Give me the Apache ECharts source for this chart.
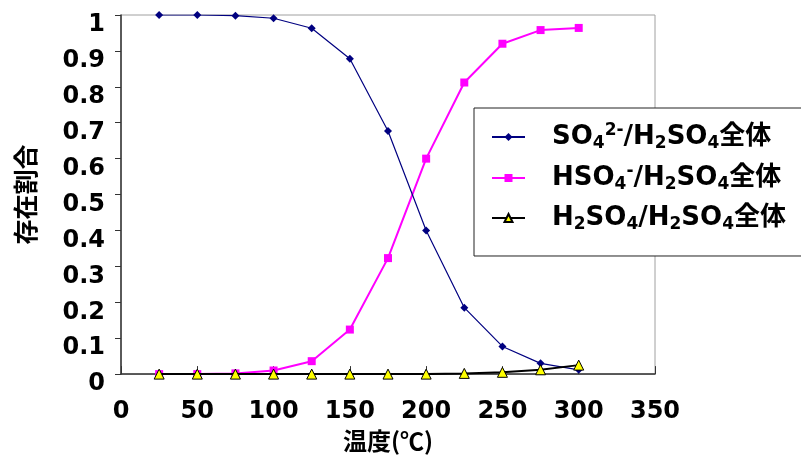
<!DOCTYPE html>
<html><head><meta charset="utf-8">
<script src="https://cdn.jsdelivr.net/npm/echarts@6/dist/echarts.min.js"></script>
<style>html,body{margin:0;padding:0;background:#fff}#c{width:801px;height:458px}</style>
</head><body><div id="c"></div>
<script>
const temps = [25, 50, 75, 100, 125, 150, 175, 200, 225, 250, 275, 300];
const so4 = [1.0, 1.0, 0.998, 0.991, 0.963, 0.878, 0.677, 0.40, 0.185, 0.077, 0.030, 0.012];
const hso4 = [0.0, 0.0, 0.002, 0.010, 0.036, 0.124, 0.323, 0.600, 0.812, 0.920, 0.958, 0.964];
const h2so4 = [0.0, 0.0, 0.0, 0.0, 0.0, 0.0, 0.0, 0.0, 0.002, 0.005, 0.012, 0.025];
const seriesNames = ['SO42-/H2SO4全体', 'HSO4-/H2SO4全体', 'H2SO4/H2SO4全体'];
const legendRich = [
  '{sp|}{n|SO}{sub|4}{sup|2-}{n|/H}{sub|2}{n|SO}{sub|4}{n|全体}',
  '{sp|}{n|HSO}{sub|4}{sup|-}{n|/H}{sub|2}{n|SO}{sub|4}{n|全体}',
  '{sp|}{n|H}{sub|2}{n|SO}{sub|4}{n|/H}{sub|2}{n|SO}{sub|4}{n|全体}'
];
const xName = '温度(℃)';
const yName = '存在割合';

const FONT = "'DejaVu Sans', 'Noto Sans CJK JP', sans-serif";
const CJK = "'Noto Sans CJK JP', 'DejaVu Sans', sans-serif";
const chart = echarts.init(document.getElementById('c'));
function pairs(ys){ return temps.map((t,i)=>[t, ys[i]]); }
chart.setOption({
  animation: false,
  backgroundColor: '#fff',
  grid: { left: 121, top: 15, right: 146, bottom: 81, show: true, borderColor: '#a0a0a0', borderWidth: 1 },
  xAxis: {
    type: 'value', min: 0, max: 350, interval: 50,
    name: xName, nameLocation: 'middle', nameGap: 51,
    nameTextStyle: { fontFamily: CJK, fontWeight: 'bold', fontSize: 24, color: '#000' },
    axisLine: { show: true, lineStyle: { color: '#333', width: 1.5 } },
    axisTick: { show: true, inside: true, length: 8, lineStyle: { color: '#333' } },
    axisLabel: { fontFamily: FONT, fontWeight: 'bold', fontSize: 24, color: '#000', margin: 26 },
    splitLine: { show: false }
  },
  yAxis: {
    type: 'value', min: 0, max: 1, interval: 0.1,
    name: yName, nameLocation: 'middle', nameGap: 83, nameRotate: 90,
    nameTextStyle: { fontFamily: CJK, fontWeight: 'bold', fontSize: 25, color: '#000' },
    axisLine: { show: true, lineStyle: { color: '#333', width: 1.5 } },
    axisTick: { show: true, inside: false, length: 6, lineStyle: { color: '#333' } },
    axisLabel: { fontFamily: FONT, fontWeight: 'bold', fontSize: 24, color: '#000', margin: 16,
      verticalAlign: 'top', lineHeight: 20,
      formatter: v => String(Math.round(v*10)/10) },
    splitLine: { show: false }
  },
  legend: {
    orient: 'vertical', left: 474, top: 108,
    data: seriesNames,
    backgroundColor: '#fff', borderColor: '#222', borderWidth: 1,
    padding: [14, 40, 23, 17],
    itemWidth: 33, itemHeight: 10, itemGap: 11,
    formatter: name => legendRich[seriesNames.indexOf(name)],
    textStyle: {
      fontFamily: FONT, fontWeight: 'bold', fontSize: 26, color: '#000',
      rich: {
        sp: { width: 22 },
        n: { fontFamily: FONT, fontWeight: 'bold', fontSize: 26, color: '#000', lineHeight: 30, verticalAlign: 'middle' },
        sub: { fontFamily: FONT, fontWeight: 'bold', fontSize: 17, color: '#000', lineHeight: 30, verticalAlign: 'bottom', padding: [12,0,0,0] },
        sup: { fontFamily: FONT, fontWeight: 'bold', fontSize: 17, color: '#000', lineHeight: 30, verticalAlign: 'top', padding: [0,0,10,0] }
      }
    }
  },
  series: [
    { name: seriesNames[0], type: 'line', data: pairs(so4), symbol: 'diamond', symbolSize: 8,
      itemStyle: { color: '#000080' }, lineStyle: { color: '#000080', width: 1.2 }, z: 3 },
    { name: seriesNames[1], type: 'line', data: pairs(hso4), symbol: 'rect', symbolSize: 8,
      itemStyle: { color: '#ff00ff' }, lineStyle: { color: '#ff00ff', width: 2 }, z: 2 },
    { name: seriesNames[2], type: 'line', data: pairs(h2so4), symbol: 'triangle', symbolSize: 10,
      itemStyle: { color: '#ffff00', borderColor: '#000', borderWidth: 1 }, lineStyle: { color: '#000', width: 2 }, z: 4 }
  ]
});
</script></body></html>
